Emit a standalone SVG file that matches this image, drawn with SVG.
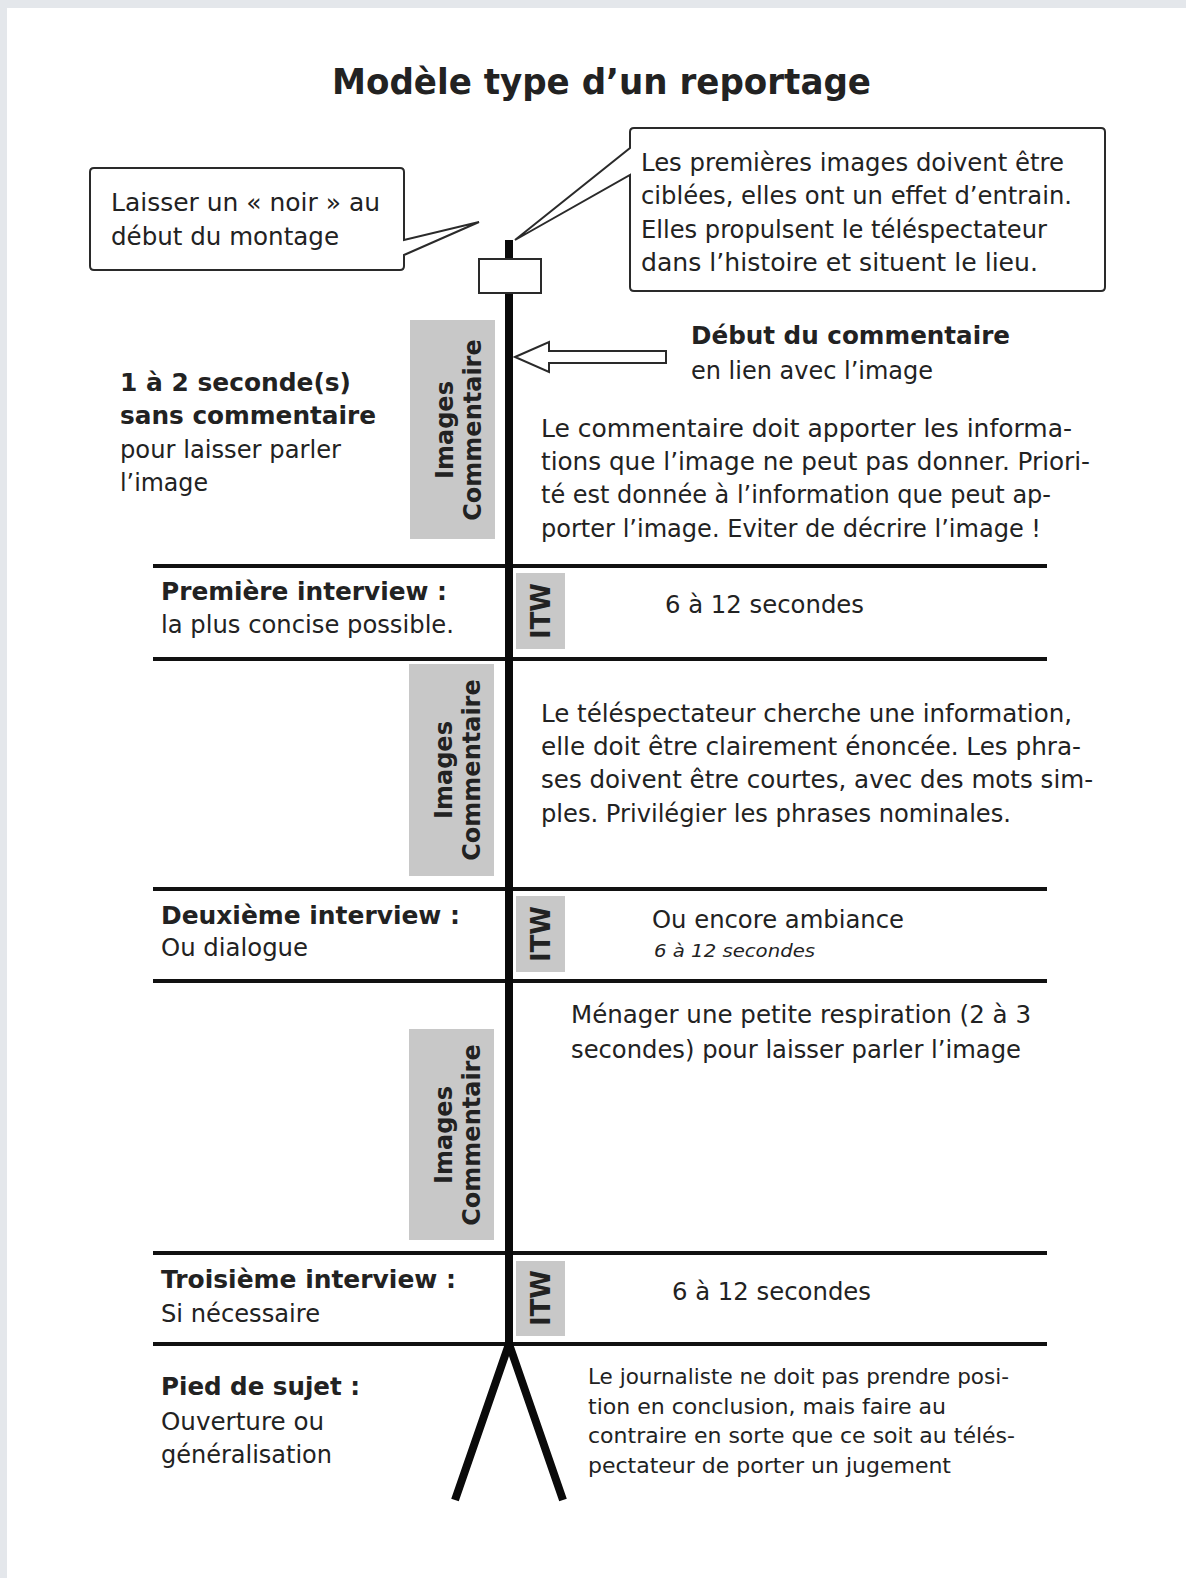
<svg xmlns="http://www.w3.org/2000/svg" width="1186" height="1578" viewBox="0 0 1186 1578">
<style>
.t{font-family:"DejaVu Sans","Liberation Sans",sans-serif;font-size:24px;fill:#222}
.b{font-weight:bold}
.s{font-size:21px}
.i{font-style:italic;font-size:18px}
.rule{stroke:#111;stroke-width:4;fill:none}
.spine{stroke:#0a0a0a;stroke-width:8;fill:none;stroke-linecap:butt}
.gray{fill:#c8c8c8}
.call{fill:#fff;stroke:#2a2a2a;stroke-width:2;stroke-linejoin:miter}
</style>
<rect x="0" y="0" width="1186" height="1578" fill="#e4e7eb"/>
<rect x="7" y="8" width="1179" height="1570" fill="#fff"/>

<g id="title">
<text class="t b" x="332" y="94" font-size="36" style="font-size:36px" textLength="539" lengthAdjust="spacingAndGlyphs">Modèle type d’un reportage</text>
</g>

<g id="connectors">
<line class="rule" x1="153" y1="566" x2="1047" y2="566"/>
<line class="rule" x1="153" y1="659" x2="1047" y2="659"/>
<line class="rule" x1="153" y1="889" x2="1047" y2="889"/>
<line class="rule" x1="153" y1="981" x2="1047" y2="981"/>
<line class="rule" x1="153" y1="1253" x2="1047" y2="1253"/>
<line class="rule" x1="153" y1="1344" x2="1047" y2="1344"/>
<line class="spine" x1="509" y1="240" x2="509" y2="1346"/>
<path class="spine" d="M509,1344 L455,1500 M509,1344 L563,1500"/>
<rect x="479" y="259" width="62" height="34" fill="#fff" stroke="#2a2a2a" stroke-width="2"/>
<path class="call" d="M515,357 L549,342 L549,351 L666,351 L666,363 L549,363 L549,372 Z"/>
</g>

<g id="callout-noir">
<path class="call" d="M404,255 L479,222 L404,240 L404,172 Q404,168 400,168 L94,168 Q90,168 90,172 L90,266 Q90,270 94,270 L400,270 Q404,270 404,266 Z"/>
<text class="t" x="111" y="211" textLength="269" lengthAdjust="spacingAndGlyphs">Laisser un « noir » au</text>
<text class="t" x="111" y="245" textLength="228" lengthAdjust="spacingAndGlyphs">début du montage</text>
</g>

<g id="callout-images">
<path class="call" d="M634,128 L1101,128 Q1105,128 1105,132 L1105,287 Q1105,291 1101,291 L634,291 Q630,291 630,287 L630,175 L515,240 L630,148 L630,132 Q630,128 634,128 Z"/>
<text class="t" x="641" y="171" textLength="423" lengthAdjust="spacingAndGlyphs">Les premières images doivent être</text>
<text class="t" x="641" y="204" textLength="431" lengthAdjust="spacingAndGlyphs">ciblées, elles ont un effet d’entrain.</text>
<text class="t" x="641" y="238" textLength="406" lengthAdjust="spacingAndGlyphs">Elles propulsent le téléspectateur</text>
<text class="t" x="641" y="271" textLength="397" lengthAdjust="spacingAndGlyphs">dans l’histoire et situent le lieu.</text>
</g>

<g id="seg1-images">
<rect class="gray" x="410" y="320" width="85" height="219"/>
<text class="t b" transform="translate(453,430) rotate(-90)" text-anchor="middle"><tspan x="0" y="0">Images</tspan><tspan x="0" y="28">Commentaire</tspan></text>
</g>
<g id="seg1-left">
<text class="t b" x="120" y="391" textLength="231" lengthAdjust="spacingAndGlyphs">1 à 2 seconde(s)</text>
<text class="t b" x="120" y="424" textLength="256" lengthAdjust="spacingAndGlyphs">sans commentaire</text>
<text class="t" x="120" y="458" textLength="221" lengthAdjust="spacingAndGlyphs">pour laisser parler</text>
<text class="t" x="120" y="491" textLength="88" lengthAdjust="spacingAndGlyphs">l’image</text>
</g>
<g id="seg1-debut">
<text class="t b" x="691" y="344" textLength="319" lengthAdjust="spacingAndGlyphs">Début du commentaire</text>
<text class="t" x="691" y="379" textLength="242" lengthAdjust="spacingAndGlyphs">en lien avec l’image</text>
</g>
<g id="seg1-right">
<text class="t" x="541" y="437" textLength="531" lengthAdjust="spacingAndGlyphs">Le commentaire doit apporter les informa-</text>
<text class="t" x="541" y="470" textLength="549" lengthAdjust="spacingAndGlyphs">tions que l’image ne peut pas donner. Priori-</text>
<text class="t" x="541" y="503" textLength="510" lengthAdjust="spacingAndGlyphs">té est donnée à l’information que peut ap-</text>
<text class="t" x="541" y="537" textLength="500" lengthAdjust="spacingAndGlyphs">porter l’image. Eviter de décrire l’image !</text>
</g>

<g id="itw1">
<rect class="gray" x="516" y="573" width="49" height="76"/>
<text class="t b" transform="translate(550,611) rotate(-90)" text-anchor="middle" style="font-size:26px">ITW</text>
<text class="t b" x="161" y="600" textLength="286" lengthAdjust="spacingAndGlyphs">Première interview :</text>
<text class="t" x="161" y="633" textLength="293" lengthAdjust="spacingAndGlyphs">la plus concise possible.</text>
<text class="t" x="665" y="613" textLength="199" lengthAdjust="spacingAndGlyphs">6 à 12 secondes</text>
</g>

<g id="seg2-images">
<rect class="gray" x="409" y="664" width="85" height="212"/>
<text class="t b" transform="translate(452,770) rotate(-90)" text-anchor="middle"><tspan x="0" y="0">Images</tspan><tspan x="0" y="28">Commentaire</tspan></text>
</g>
<g id="seg2-right">
<text class="t" x="541" y="722" textLength="531" lengthAdjust="spacingAndGlyphs">Le téléspectateur cherche une information,</text>
<text class="t" x="541" y="755" textLength="540" lengthAdjust="spacingAndGlyphs">elle doit être clairement énoncée. Les phra-</text>
<text class="t" x="541" y="788" textLength="552" lengthAdjust="spacingAndGlyphs">ses doivent être courtes, avec des mots sim-</text>
<text class="t" x="541" y="822" textLength="470" lengthAdjust="spacingAndGlyphs">ples. Privilégier les phrases nominales.</text>
</g>

<g id="itw2">
<rect class="gray" x="516" y="896" width="49" height="76"/>
<text class="t b" transform="translate(550,934) rotate(-90)" text-anchor="middle" style="font-size:26px">ITW</text>
<text class="t b" x="161" y="924" textLength="299" lengthAdjust="spacingAndGlyphs">Deuxième interview :</text>
<text class="t" x="161" y="956" textLength="147" lengthAdjust="spacingAndGlyphs">Ou dialogue</text>
<text class="t" x="652" y="928" textLength="252" lengthAdjust="spacingAndGlyphs">Ou encore ambiance</text>
<text class="t i" x="654" y="957" textLength="161" lengthAdjust="spacingAndGlyphs">6 à 12 secondes</text>
</g>

<g id="seg3-images">
<rect class="gray" x="409" y="1029" width="85" height="211"/>
<text class="t b" transform="translate(452,1135) rotate(-90)" text-anchor="middle"><tspan x="0" y="0">Images</tspan><tspan x="0" y="28">Commentaire</tspan></text>
</g>
<g id="seg3-right">
<text class="t" x="571" y="1023" textLength="460" lengthAdjust="spacingAndGlyphs">Ménager une petite respiration (2 à 3</text>
<text class="t" x="571" y="1058" textLength="450" lengthAdjust="spacingAndGlyphs">secondes) pour laisser parler l’image</text>
</g>

<g id="itw3">
<rect class="gray" x="516" y="1261" width="49" height="75"/>
<text class="t b" transform="translate(550,1298) rotate(-90)" text-anchor="middle" style="font-size:26px">ITW</text>
<text class="t b" x="161" y="1288" textLength="295" lengthAdjust="spacingAndGlyphs">Troisième interview :</text>
<text class="t" x="161" y="1322" textLength="159" lengthAdjust="spacingAndGlyphs">Si nécessaire</text>
<text class="t" x="672" y="1300" textLength="199" lengthAdjust="spacingAndGlyphs">6 à 12 secondes</text>
</g>

<g id="foot">
<text class="t b" x="161" y="1395" textLength="199" lengthAdjust="spacingAndGlyphs">Pied de sujet :</text>
<text class="t" x="161" y="1430" textLength="163" lengthAdjust="spacingAndGlyphs">Ouverture ou</text>
<text class="t" x="161" y="1463" textLength="171" lengthAdjust="spacingAndGlyphs">généralisation</text>
<text class="t s" x="588" y="1384" textLength="421" lengthAdjust="spacingAndGlyphs">Le journaliste ne doit pas prendre posi-</text>
<text class="t s" x="588" y="1414" textLength="358" lengthAdjust="spacingAndGlyphs">tion en conclusion, mais faire au</text>
<text class="t s" x="588" y="1443" textLength="427" lengthAdjust="spacingAndGlyphs">contraire en sorte que ce soit au télés-</text>
<text class="t s" x="588" y="1473" textLength="363" lengthAdjust="spacingAndGlyphs">pectateur de porter un jugement</text>
</g>
</svg>
